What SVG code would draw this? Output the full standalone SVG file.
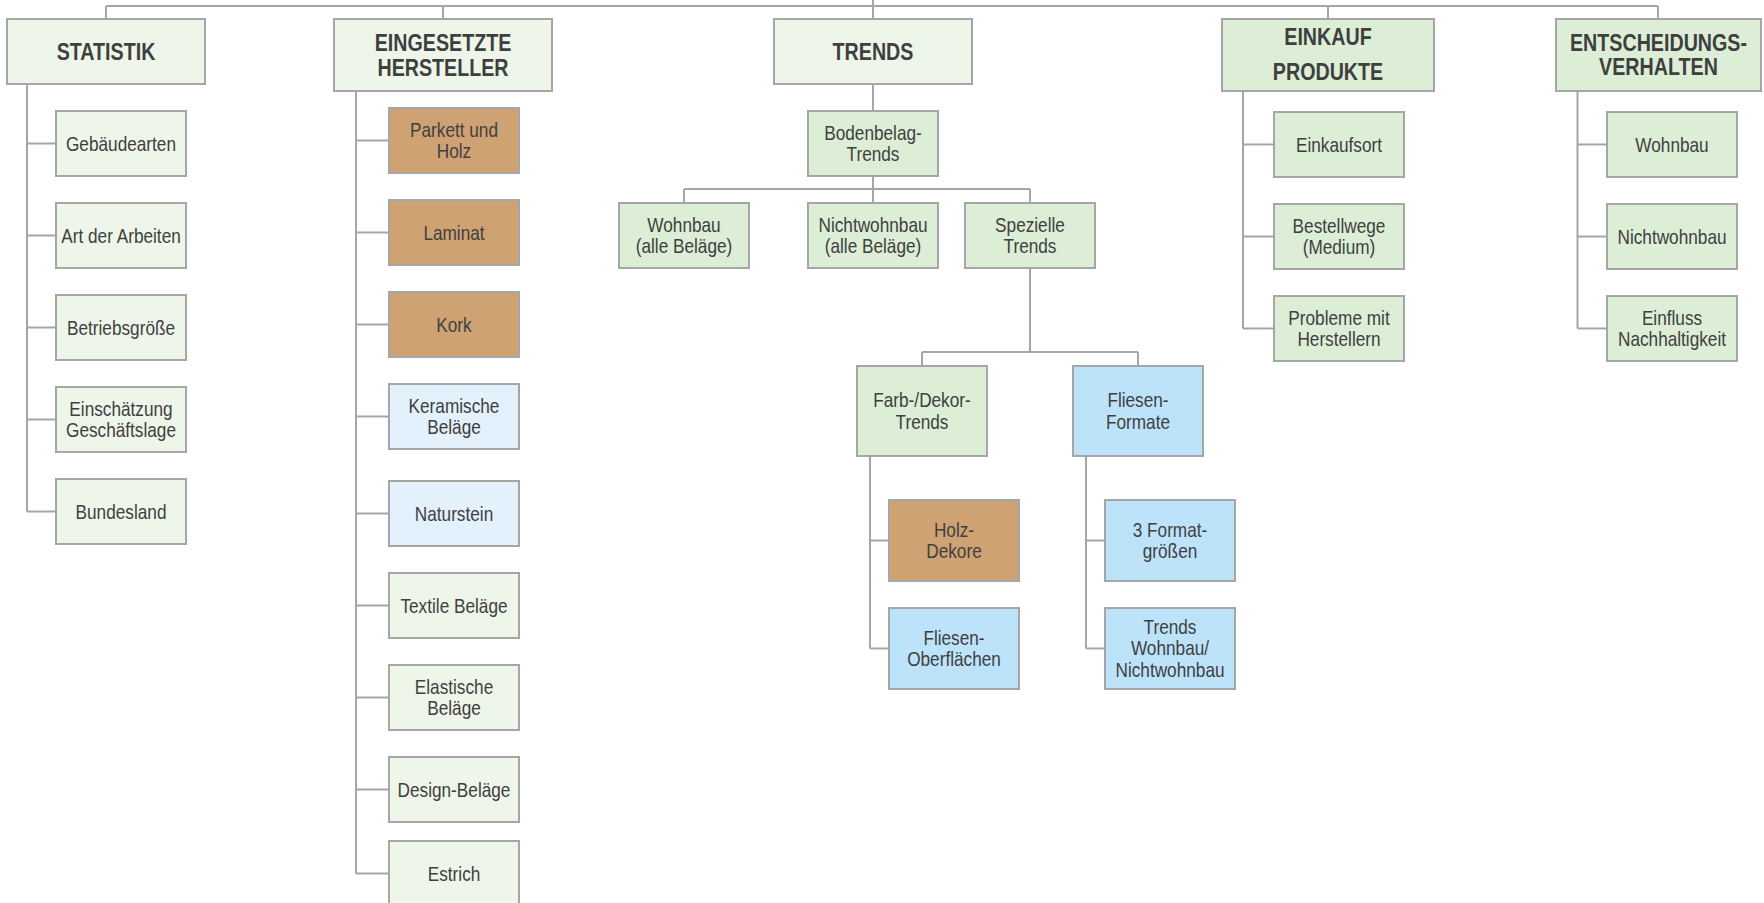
<svg xmlns="http://www.w3.org/2000/svg" width="1764" height="903" viewBox="0 0 1764 903">
<style>
rect{stroke:#A6A6A6;stroke-width:2}
.pg{fill:#EEF6EA}
.mg{fill:#DCEED6}
.tan{fill:#CFA274}
.pb{fill:#E2F1FC}
.bl{fill:#BDE3FB}
text{font-family:"Liberation Sans",Arial,sans-serif;fill:#3F3F3F;text-anchor:middle}
.h{font-size:24px;font-weight:bold}
.t{font-size:21px}
#connectors path{fill:none;stroke:#A6A6A6;stroke-width:2}
</style>
<rect x="0" y="0" width="1764" height="903" style="fill:#FFFFFF;stroke:none"/>
<g id="connectors">
<path d="M106 6H1658M873 0V19M106 6V19M443 6V19M1328 6V19M1658 6V19"/>
<path d="M27 84V511.5M27 143.5H56M27 235.5H56M27 327.5H56M27 419.5H56M27 511.5H56"/>
<path d="M356 91V873.5M356 140.5H389M356 232.5H389M356 324.5H389M356 416.5H389M356 513.5H389M356 605.5H389M356 697.5H389M356 789.5H389M356 873.5H389"/>
<path d="M873 84V111M873 176V203M684 189H1030M684 189V203M1030 189V203"/>
<path d="M1030 268V352M922 352H1138M922 352V366M1138 352V366"/>
<path d="M870 456V648.5M870 540.5H889M870 648.5H889"/>
<path d="M1086 456V648.5M1086 540.5H1105M1086 648.5H1105"/>
<path d="M1243 91V328.5M1243 144.5H1274M1243 236.5H1274M1243 328.5H1274"/>
<path d="M1577.5 91V328.5M1577.5 144.5H1607M1577.5 236.5H1607M1577.5 328.5H1607"/>
</g>
<g id="statistik"><rect class="pg" x="7" y="19" width="198" height="65"/><text class="h" transform="translate(106,60) scale(0.82,1)">STATISTIK</text></g>
<g id="hersteller"><rect class="pg" x="334" y="19" width="218" height="72"/><text class="h" transform="translate(443,51) scale(0.82,1)"><tspan x="0">EINGESETZTE</tspan><tspan x="0" dy="25">HERSTELLER</tspan></text></g>
<g id="trends"><rect class="pg" x="774" y="19" width="198" height="65"/><text class="h" transform="translate(873,60) scale(0.82,1)">TRENDS</text></g>
<g id="einkauf"><rect class="mg" x="1222" y="19" width="212" height="72"/><text class="h" transform="translate(1328,45) scale(0.82,1)"><tspan x="0">EINKAUF</tspan><tspan x="0" dy="35">PRODUKTE</tspan></text></g>
<g id="entscheidung"><rect class="mg" x="1556" y="19" width="205" height="72"/><text class="h" transform="translate(1658.5,50.5) scale(0.82,1)"><tspan x="0">ENTSCHEIDUNGS-</tspan><tspan x="0" dy="25">VERHALTEN</tspan></text></g>

<g id="gebaeudearten"><rect class="pg" x="56" y="111" width="130" height="65"/><text class="t" transform="translate(121,150.5) scale(0.82,1)">Gebäudearten</text></g>
<g id="artarbeiten"><rect class="pg" x="56" y="203" width="130" height="65"/><text class="t" transform="translate(121,242.5) scale(0.82,1)">Art der Arbeiten</text></g>
<g id="betriebsgroesse"><rect class="pg" x="56" y="295" width="130" height="65"/><text class="t" transform="translate(121,334.5) scale(0.82,1)">Betriebsgröße</text></g>
<g id="einschaetzung"><rect class="pg" x="56" y="387" width="130" height="65"/><text class="t" transform="translate(121,415.5) scale(0.82,1)"><tspan x="0">Einschätzung</tspan><tspan x="0" dy="22">Geschäftslage</tspan></text></g>
<g id="bundesland"><rect class="pg" x="56" y="479" width="130" height="65"/><text class="t" transform="translate(121,518.5) scale(0.82,1)">Bundesland</text></g>

<g id="parkett"><rect class="tan" x="389" y="108" width="130" height="65"/><text class="t" transform="translate(454,136.5) scale(0.82,1)"><tspan x="0">Parkett und</tspan><tspan x="0" dy="22">Holz</tspan></text></g>
<g id="laminat"><rect class="tan" x="389" y="200" width="130" height="65"/><text class="t" transform="translate(454,239.5) scale(0.82,1)">Laminat</text></g>
<g id="kork"><rect class="tan" x="389" y="292" width="130" height="65"/><text class="t" transform="translate(454,331.5) scale(0.82,1)">Kork</text></g>
<g id="keramische"><rect class="pb" x="389" y="384" width="130" height="65"/><text class="t" transform="translate(454,412.5) scale(0.82,1)"><tspan x="0">Keramische</tspan><tspan x="0" dy="22">Beläge</tspan></text></g>
<g id="naturstein"><rect class="pb" x="389" y="481" width="130" height="65"/><text class="t" transform="translate(454,520.5) scale(0.82,1)">Naturstein</text></g>
<g id="textile"><rect class="pg" x="389" y="573" width="130" height="65"/><text class="t" transform="translate(454,612.5) scale(0.82,1)">Textile Beläge</text></g>
<g id="elastische"><rect class="pg" x="389" y="665" width="130" height="65"/><text class="t" transform="translate(454,693.5) scale(0.82,1)"><tspan x="0">Elastische</tspan><tspan x="0" dy="22">Beläge</tspan></text></g>
<g id="design"><rect class="pg" x="389" y="757" width="130" height="65"/><text class="t" transform="translate(454,796.5) scale(0.82,1)">Design-Beläge</text></g>
<g id="estrich"><rect class="pg" x="389" y="841" width="130" height="65"/><text class="t" transform="translate(454,880.5) scale(0.82,1)">Estrich</text></g>

<g id="bodenbelag"><rect class="mg" x="808" y="111" width="130" height="65"/><text class="t" transform="translate(873,139.5) scale(0.82,1)"><tspan x="0">Bodenbelag-</tspan><tspan x="0" dy="22">Trends</tspan></text></g>
<g id="wohnbau-alle"><rect class="mg" x="619" y="203" width="130" height="65"/><text class="t" transform="translate(684,231.5) scale(0.82,1)"><tspan x="0">Wohnbau</tspan><tspan x="0" dy="22">(alle Beläge)</tspan></text></g>
<g id="nichtwohnbau-alle"><rect class="mg" x="808" y="203" width="130" height="65"/><text class="t" transform="translate(873,231.5) scale(0.82,1)"><tspan x="0">Nichtwohnbau</tspan><tspan x="0" dy="22">(alle Beläge)</tspan></text></g>
<g id="spezielle"><rect class="mg" x="965" y="203" width="130" height="65"/><text class="t" transform="translate(1030,231.5) scale(0.82,1)"><tspan x="0">Spezielle</tspan><tspan x="0" dy="22">Trends</tspan></text></g>
<g id="farbdekor"><rect class="mg" x="857" y="366" width="130" height="90"/><text class="t" transform="translate(922,407) scale(0.82,1)"><tspan x="0">Farb-/Dekor-</tspan><tspan x="0" dy="22">Trends</tspan></text></g>
<g id="fliesenformate"><rect class="bl" x="1073" y="366" width="130" height="90"/><text class="t" transform="translate(1138,407) scale(0.82,1)"><tspan x="0">Fliesen-</tspan><tspan x="0" dy="22">Formate</tspan></text></g>
<g id="holzdekore"><rect class="tan" x="889" y="500" width="130" height="81"/><text class="t" transform="translate(954,536.5) scale(0.82,1)"><tspan x="0">Holz-</tspan><tspan x="0" dy="22">Dekore</tspan></text></g>
<g id="fliesenoberflaechen"><rect class="bl" x="889" y="608" width="130" height="81"/><text class="t" transform="translate(954,644.5) scale(0.82,1)"><tspan x="0">Fliesen-</tspan><tspan x="0" dy="22">Oberflächen</tspan></text></g>
<g id="formatgroessen"><rect class="bl" x="1105" y="500" width="130" height="81"/><text class="t" transform="translate(1170,536.5) scale(0.82,1)"><tspan x="0">3 Format-</tspan><tspan x="0" dy="22">größen</tspan></text></g>
<g id="trendswohnbau"><rect class="bl" x="1105" y="608" width="130" height="81"/><text class="t" transform="translate(1170,633.5) scale(0.82,1)"><tspan x="0">Trends</tspan><tspan x="0" dy="22">Wohnbau/</tspan><tspan x="0" dy="22">Nichtwohnbau</tspan></text></g>

<g id="einkaufsort"><rect class="mg" x="1274" y="112" width="130" height="65"/><text class="t" transform="translate(1339,151.5) scale(0.82,1)">Einkaufsort</text></g>
<g id="bestellwege"><rect class="mg" x="1274" y="204" width="130" height="65"/><text class="t" transform="translate(1339,232.5) scale(0.82,1)"><tspan x="0">Bestellwege</tspan><tspan x="0" dy="22">(Medium)</tspan></text></g>
<g id="probleme"><rect class="mg" x="1274" y="296" width="130" height="65"/><text class="t" transform="translate(1339,324.5) scale(0.82,1)"><tspan x="0">Probleme mit</tspan><tspan x="0" dy="22">Herstellern</tspan></text></g>

<g id="e-wohnbau"><rect class="mg" x="1607" y="112" width="130" height="65"/><text class="t" transform="translate(1672,151.5) scale(0.82,1)">Wohnbau</text></g>
<g id="e-nichtwohnbau"><rect class="mg" x="1607" y="204" width="130" height="65"/><text class="t" transform="translate(1672,243.5) scale(0.82,1)">Nichtwohnbau</text></g>
<g id="e-einfluss"><rect class="mg" x="1607" y="296" width="130" height="65"/><text class="t" transform="translate(1672,324.5) scale(0.82,1)"><tspan x="0">Einfluss</tspan><tspan x="0" dy="22">Nachhaltigkeit</tspan></text></g>
</svg>
